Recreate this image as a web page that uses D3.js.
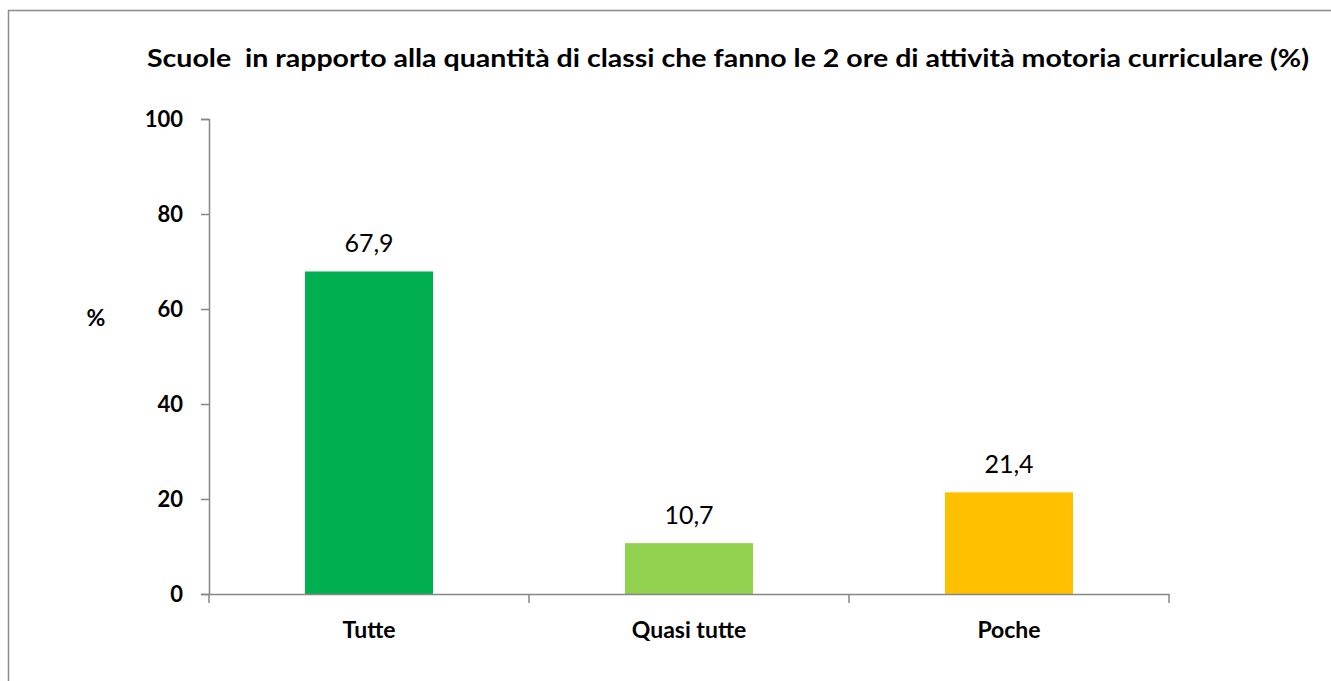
<!DOCTYPE html>
<html lang="it">
<head>
  <meta charset="UTF-8">
  <title>Scuole e ore di attività motoria</title>
  <script src="https://d3js.org/d3.v7.min.js"></script>
  <style>
    body { margin: 0; padding: 0; background: #fff; }
    svg text { font-family: Lato, "Open Sans", sans-serif; fill: #000; }
  </style>
</head>
<body>
  <div id="chart"></div>
  <script>
    // data
    const categories = ["Tutte", "Quasi tutte", "Poche"];
    const values = [67.9, 10.7, 21.4];
    const colors = ["#00B050", "#92D050", "#FFC000"];
    const yTicks = [0, 20, 40, 60, 80, 100];
    const title = "Scuole  in rapporto alla quantità di classi che fanno le 2 ore di attività motoria curriculare (%)";

    const width = 1331, height = 681;
    const margin = { left: 209, right: 162, top: 119, bottom: 87 };
    const axisColor = "#868686";

    const svg = d3.select("#chart").append("svg")
      .attr("width", width).attr("height", height);

    // outer frame
    svg.append("path")
      .attr("d", `M8.5,${height + 5} V10.5 H${width + 5}`)
      .attr("fill", "none").attr("stroke", "#8c8c8c").attr("stroke-width", 1.5);

    const x = d3.scaleBand()
      .domain(categories)
      .range([margin.left, width - margin.right])
      .paddingInner(0.6).paddingOuter(0.3);

    const y = d3.scaleLinear()
      .domain([0, 100])
      .range([height - margin.bottom, margin.top]);

    // bars
    svg.selectAll("rect.bar")
      .data(values)
      .join("rect")
      .attr("class", "bar")
      .attr("x", (d, i) => x(categories[i]))
      .attr("width", x.bandwidth())
      .attr("y", d => y(d))
      .attr("height", d => y(0) - y(d))
      .attr("fill", (d, i) => colors[i]);

    // y axis
    const yAxis = svg.append("g")
      .attr("transform", `translate(${margin.left},0)`)
      .call(d3.axisLeft(y).tickValues(yTicks).tickSize(8).tickPadding(18).tickFormat(d3.format("d")));
    yAxis.attr("font-family", null).attr("font-size", null);
    yAxis.select(".domain").attr("stroke", axisColor).attr("stroke-width", 1.5);
    yAxis.selectAll(".tick line").attr("stroke", axisColor).attr("stroke-width", 1.5);
    yAxis.selectAll(".tick text")
      .style("font-size", "22px").style("font-weight", "bold");

    // x axis with boundary ticks
    const xAxis = svg.append("g")
      .attr("transform", `translate(0,${y(0)})`)
      .call(d3.axisBottom(x).tickSize(0).tickPadding(28));
    xAxis.attr("font-family", null).attr("font-size", null);
    xAxis.select(".domain").attr("stroke", axisColor).attr("stroke-width", 1.5);
    xAxis.selectAll(".tick text")
      .style("font-size", "23px").style("font-weight", "bold");

    const step = x.step();
    const edges = d3.range(categories.length + 1).map(i => margin.left + i * step);
    xAxis.selectAll("line.edge")
      .data(edges)
      .join("line")
      .attr("class", "edge")
      .attr("x1", d => d).attr("x2", d => d)
      .attr("y1", 0).attr("y2", 9)
      .attr("stroke", axisColor).attr("stroke-width", 1.5);

    // value labels
    svg.selectAll("text.val")
      .data(values)
      .join("text")
      .attr("class", "val")
      .attr("x", (d, i) => x(categories[i]) + x.bandwidth() / 2)
      .attr("y", d => y(d) - 19)
      .attr("text-anchor", "middle")
      .style("font-size", "25px")
      .text(d => d3.format(".1f")(d).replace(".", ","));

    // axis title
    svg.append("text")
      .attr("x", 96).attr("y", 326)
      .attr("text-anchor", "middle")
      .style("font-size", "23px").style("font-weight", "bold")
      .text("%");

    // chart title (keeps the double space after "Scuole")
    svg.append("text")
      .attr("x", 728).attr("y", 67)
      .attr("text-anchor", "middle")
      .attr("textLength", 1162)
      .attr("lengthAdjust", "spacingAndGlyphs")
      .style("white-space", "pre")
      .style("font-size", "24px").style("font-weight", "bold")
      .text(title);
  </script>
</body>
</html>
